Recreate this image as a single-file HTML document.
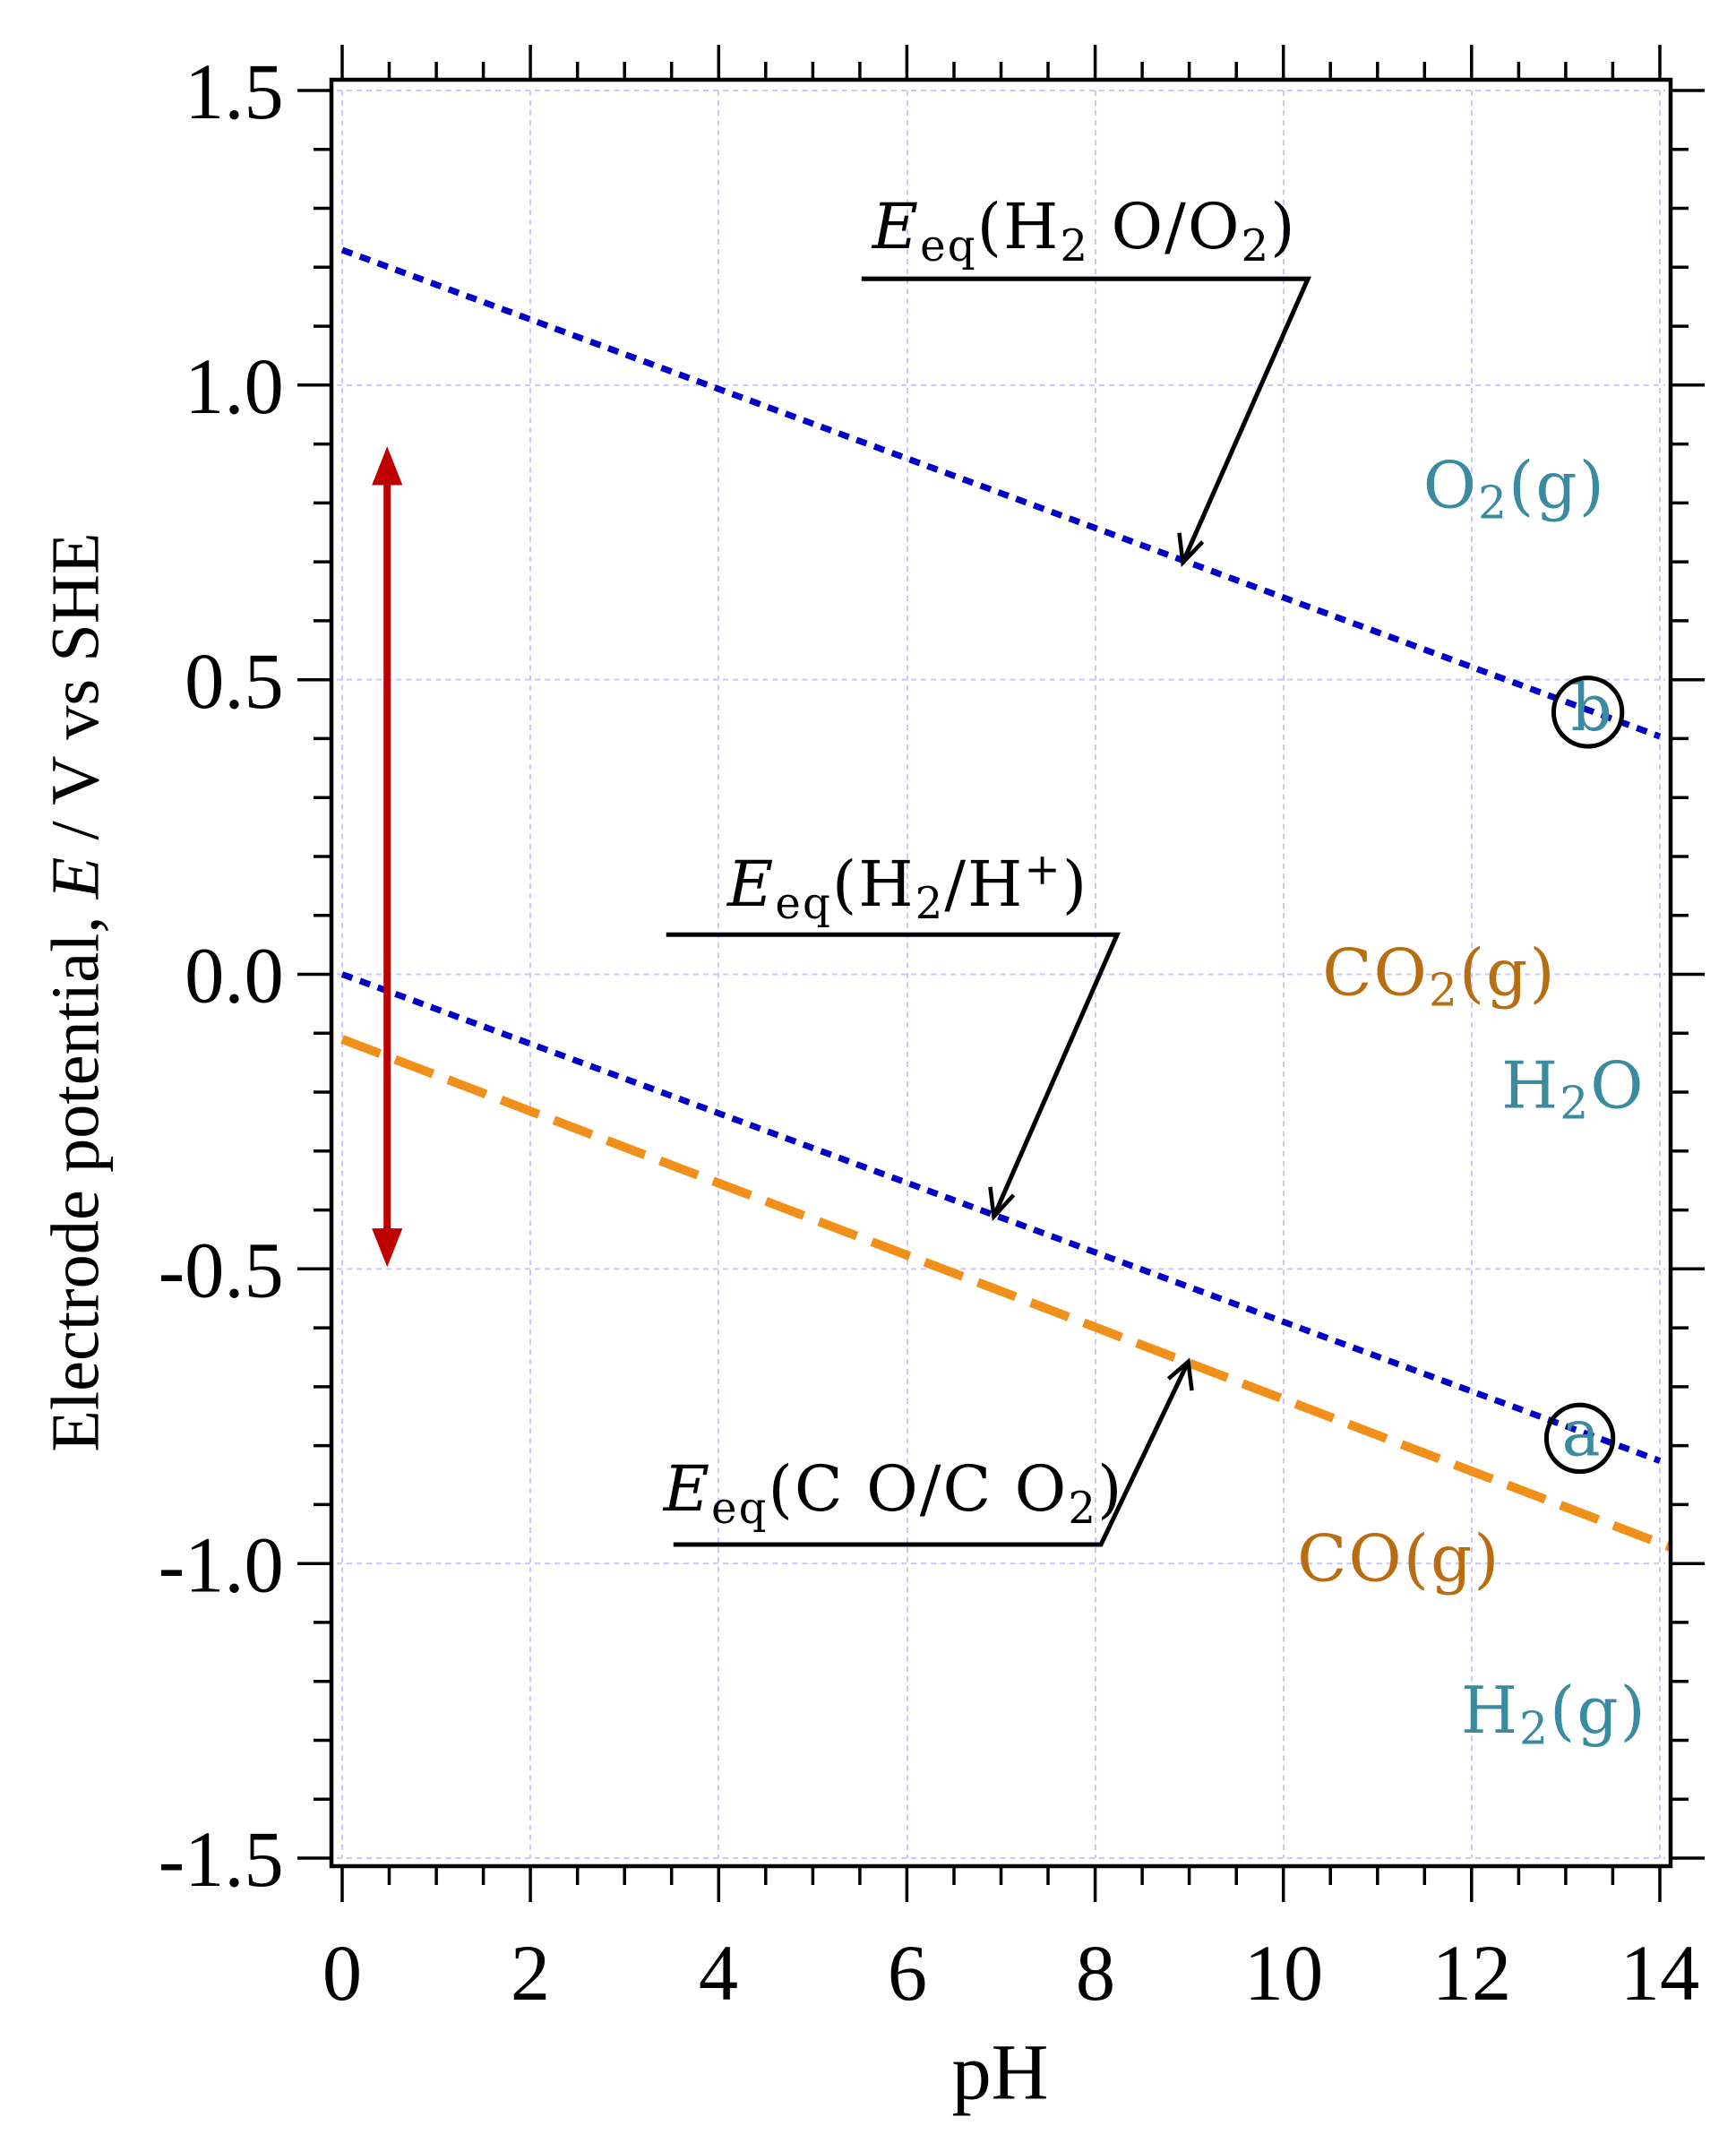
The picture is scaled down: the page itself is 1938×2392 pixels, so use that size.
<!DOCTYPE html>
<html><head><meta charset="utf-8"><style>
html,body{margin:0;padding:0;background:#fff;}
svg{display:block;}
.tk{font-family:"Liberation Serif",serif;font-size:88px;fill:#000;}
.an{font-family:"DejaVu Serif","Liberation Serif",serif;font-size:70px;fill:#000;letter-spacing:2px;}
.lb{font-family:"DejaVu Serif","Liberation Serif",serif;font-size:72px;letter-spacing:2px;}
</style></head><body>
<svg width="1938" height="2392" viewBox="0 0 1938 2392" xmlns="http://www.w3.org/2000/svg">
<g transform="translate(3.2,3.46) scale(1.00478,1.0056)">
<g stroke="#c8c8ff" stroke-width="2" stroke-dasharray="6,5" fill="none">
<line x1="377" y1="97" x2="377" y2="2059"/><line x1="586" y1="97" x2="586" y2="2059"/><line x1="795" y1="97" x2="795" y2="2059"/><line x1="1005" y1="97" x2="1005" y2="2059"/><line x1="1214" y1="97" x2="1214" y2="2059"/><line x1="1423" y1="97" x2="1423" y2="2059"/><line x1="1632" y1="97" x2="1632" y2="2059"/><line x1="1841" y1="97" x2="1841" y2="2059"/>
<line x1="371" y1="97" x2="1847" y2="97"/><line x1="371" y1="424" x2="1847" y2="424"/><line x1="371" y1="751" x2="1847" y2="751"/><line x1="371" y1="1078" x2="1847" y2="1078"/><line x1="371" y1="1405" x2="1847" y2="1405"/><line x1="371" y1="1732" x2="1847" y2="1732"/><line x1="371" y1="2059" x2="1847" y2="2059"/>
</g>
<g class="tk" text-anchor="end">
<text x="312" y="128">1.5</text><text x="312" y="455">1.0</text><text x="312" y="782">0.5</text><text x="312" y="1109">0.0</text><text x="312" y="1436">-0.5</text><text x="312" y="1763">-1.0</text><text x="312" y="2090">-1.5</text>
</g>
<g class="tk" text-anchor="middle">
<text x="377" y="2216">0</text><text x="586" y="2216">2</text><text x="795" y="2216">4</text><text x="1005" y="2216">6</text><text x="1214" y="2216">8</text><text x="1423" y="2216">10</text><text x="1632" y="2216">12</text><text x="1841" y="2216">14</text>
<text x="1108" y="2326">pH</text>
<text transform="translate(106,1098) rotate(-90)" style="font-size:76px">Electrode potential, <tspan font-style="italic">E</tspan> / V vs SHE</text>
</g>
<g fill="none">
<line x1="377" y1="274" x2="1841" y2="814" stroke="#0000c8" stroke-width="7" stroke-dasharray="12,9"/>
<line x1="377" y1="1078" x2="1841" y2="1618" stroke="#0000c8" stroke-width="7" stroke-dasharray="12,9"/>
<line x1="377" y1="1150" x2="1853" y2="1714" stroke="#f0901a" stroke-width="10" stroke-dasharray="45,18"/>
</g>
<g stroke="#000" stroke-width="5" fill="none">
<polyline points="954,306 1450,306 1311,621"/>
<polyline points="737,1034 1238,1034 1101,1347"/>
<polyline points="745,1711 1220,1711 1317,1508"/>
</g>
<g stroke="#000" stroke-width="4.5" fill="none">
<polyline points="1307,588 1311,621 1333,598"/>
<polyline points="1097,1314 1101,1347 1123,1323"/>
<polyline points="1295,1527 1317,1508 1321,1540"/>
</g>
<text class="an" x="966" y="272"><tspan font-style="italic">E</tspan><tspan font-size="48" dy="14">eq</tspan><tspan dy="-14">(H</tspan><tspan font-size="48" dy="14">2</tspan><tspan dy="-14"> O/O</tspan><tspan font-size="48" dy="14">2</tspan><tspan dy="-14">)</tspan></text>
<text class="an" x="805" y="1002"><tspan font-style="italic">E</tspan><tspan font-size="48" dy="14">eq</tspan><tspan dy="-14">(H</tspan><tspan font-size="48" dy="14">2</tspan><tspan dy="-14">/H</tspan><tspan font-size="48" dy="-24">+</tspan><tspan dy="24">)</tspan></text>
<text class="an" x="734" y="1673"><tspan font-style="italic">E</tspan><tspan font-size="48" dy="14">eq</tspan><tspan dy="-14">(C O/C O</tspan><tspan font-size="48" dy="14">2</tspan><tspan dy="-14">)</tspan></text>
<g class="lb" fill="#3a8aa0">
<text x="1578" y="560">O<tspan font-size="50" dy="12">2</tspan><tspan dy="-12">(g)</tspan></text>
<text x="1665" y="1226">H<tspan font-size="50" dy="12">2</tspan><tspan dy="-12">O</tspan></text>
<text x="1620" y="1920">H<tspan font-size="50" dy="12">2</tspan><tspan dy="-12">(g)</tspan></text>
<text x="1742" y="807">b</text>
<text x="1732" y="1612">a</text>
</g>
<g class="lb" fill="#b86e10">
<text x="1466" y="1101">CO<tspan font-size="50" dy="12">2</tspan><tspan dy="-12">(g)</tspan></text>
<text x="1438" y="1751">CO(g)</text>
</g>
<circle cx="1761" cy="787" r="38" fill="none" stroke="#000" stroke-width="5"/>
<circle cx="1752" cy="1593" r="37" fill="none" stroke="#000" stroke-width="5"/>
<line x1="427" y1="530" x2="427" y2="1365" stroke="#c00000" stroke-width="8"/>
<polygon points="410,535 444,535 427,492" fill="#c00000"/>
<polygon points="410,1360 444,1360 427,1403" fill="#c00000"/>
</g>
<rect x="370" y="89" width="1495" height="1994" fill="none" stroke="#000" stroke-width="4.5"/>
<g stroke="#000" stroke-width="3.5" fill="none">
<path d="M382 89v-39M592.1 89v-39M802.3 89v-39M1012.4 89v-39M1222.6 89v-39M1432.7 89v-39M1642.8 89v-39M1853 89v-39
M434.5 89v-20M487.1 89v-20M539.6 89v-20M644.7 89v-20M697.2 89v-20M749.7 89v-20M854.8 89v-20M907.4 89v-20M959.9 89v-20M1065 89v-20M1117.5 89v-20M1170 89v-20M1275.1 89v-20M1327.6 89v-20M1380.2 89v-20M1485.2 89v-20M1537.8 89v-20M1590.3 89v-20M1695.4 89v-20M1747.9 89v-20M1800.4 89v-20"/>
<path d="M382 2083v40M592.1 2083v40M802.3 2083v40M1012.4 2083v40M1222.6 2083v40M1432.7 2083v40M1642.8 2083v40M1853 2083v40
M434.5 2083v21M487.1 2083v21M539.6 2083v21M644.7 2083v21M697.2 2083v21M749.7 2083v21M854.8 2083v21M907.4 2083v21M959.9 2083v21M1065 2083v21M1117.5 2083v21M1170 2083v21M1275.1 2083v21M1327.6 2083v21M1380.2 2083v21M1485.2 2083v21M1537.8 2083v21M1590.3 2083v21M1695.4 2083v21M1747.9 2083v21M1800.4 2083v21"/>
<path d="M370 101h-38M370 429.8h-38M370 758.7h-38M370 1087.5h-38M370 1416.3h-38M370 1745.2h-38M370 2074h-38
M370 166.8h-20M370 232.5h-20M370 298.3h-20M370 364.1h-20M370 495.6h-20M370 561.4h-20M370 627.1h-20M370 692.9h-20M370 824.4h-20M370 890.2h-20M370 956h-20M370 1021.7h-20M370 1153.3h-20M370 1219h-20M370 1284.8h-20M370 1350.6h-20M370 1482.1h-20M370 1547.9h-20M370 1613.6h-20M370 1679.4h-20M370 1810.9h-20M370 1876.7h-20M370 1942.5h-20M370 2008.2h-20"/>
<path d="M1865 101h38M1865 429.8h38M1865 758.7h38M1865 1087.5h38M1865 1416.3h38M1865 1745.2h38M1865 2074h38
M1865 166.8h20M1865 232.5h20M1865 298.3h20M1865 364.1h20M1865 495.6h20M1865 561.4h20M1865 627.1h20M1865 692.9h20M1865 824.4h20M1865 890.2h20M1865 956h20M1865 1021.7h20M1865 1153.3h20M1865 1219h20M1865 1284.8h20M1865 1350.6h20M1865 1482.1h20M1865 1547.9h20M1865 1613.6h20M1865 1679.4h20M1865 1810.9h20M1865 1876.7h20M1865 1942.5h20M1865 2008.2h20"/>
</g>
</svg>
</body></html>
